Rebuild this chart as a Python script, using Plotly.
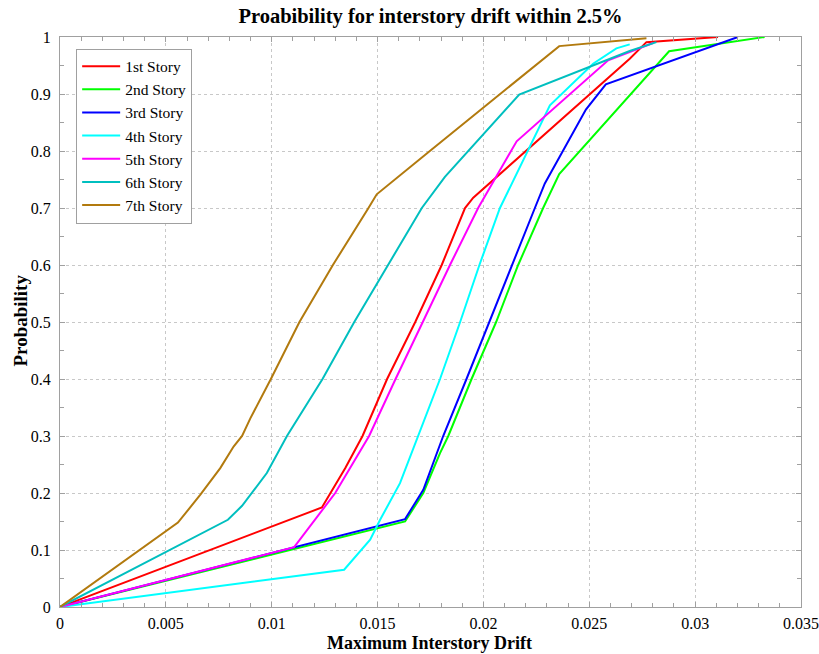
import plotly.graph_objects as go

names = ["1st Story", "2nd Story", "3rd Story", "4th Story", "5th Story", "6th Story", "7th Story"]
colors = ["#FF0000", "#00FF00", "#0000FF", "#00FFFF", "#FF00FF", "#00BFBF", "#B27A0E"]

x1 = [0, 0.01237, 0.01347, 0.01429, 0.01545, 0.01678, 0.01803, 0.01913, 0.01952, 0.02691, 0.0277, 0.03108]
y1 = [0, 0.1746, 0.2436, 0.30, 0.40, 0.50, 0.60, 0.70, 0.718, 0.962, 0.991, 1.0]

x2 = [0, 0.0163, 0.01716, 0.01795, 0.01834, 0.01944, 0.0206, 0.02164, 0.02282, 0.02358, 0.02877, 0.03328]
y2 = [0, 0.150, 0.200, 0.27, 0.30, 0.40, 0.50, 0.60, 0.70, 0.7594, 0.975, 1.0]

x3 = [0, 0.0163, 0.01716, 0.01795, 0.0181, 0.0192, 0.02027, 0.02133, 0.02243, 0.0229, 0.02484, 0.02578, 0.03202]
y3 = [0, 0.1542, 0.2056, 0.2844, 0.30, 0.40, 0.50, 0.60, 0.70, 0.743, 0.8727, 0.917, 1.0]

x4 = [0, 0.01342, 0.01465, 0.01512, 0.01606, 0.0169, 0.01795, 0.0189, 0.01981, 0.02078, 0.02314, 0.02518, 0.02628, 0.02691]
y4 = [0, 0.0654, 0.118, 0.153, 0.2173, 0.30, 0.40, 0.50, 0.60, 0.70, 0.880, 0.953, 0.98, 0.987]

x5 = [0, 0.01106, 0.013, 0.0146, 0.01585, 0.01712, 0.01842, 0.01975, 0.02157, 0.02589, 0.02801]
y5 = [0, 0.105, 0.200, 0.30, 0.40, 0.50, 0.60, 0.70, 0.817, 0.959, 0.9895]

x6 = [0, 0.00793, 0.0086, 0.00977, 0.01072, 0.0124, 0.0139, 0.01551, 0.01709, 0.01818, 0.02169, 0.02691, 0.02817]
y6 = [0, 0.153, 0.1775, 0.235, 0.30, 0.40, 0.50, 0.60, 0.70, 0.7547, 0.899, 0.9755, 0.991]

x7 = [0, 0.00557, 0.00663, 0.0071, 0.00757, 0.0082, 0.0086, 0.00899, 0.00996, 0.01131, 0.01289, 0.01457, 0.01496, 0.01747, 0.02358, 0.0277]
y7 = [0, 0.148, 0.197, 0.22, 0.2436, 0.2815, 0.30, 0.331, 0.40, 0.50, 0.60, 0.70, 0.724, 0.80, 0.984, 0.998]

xs = [x1, x2, x3, x4, x5, x6, x7]
ys = [y1, y2, y3, y4, y5, y6, y7]

xticks = [0, 0.005, 0.01, 0.015, 0.02, 0.025, 0.03, 0.035]
xticklabels = ["0", "0.005", "0.01", "0.015", "0.02", "0.025", "0.03", "0.035"]
yticks = [0, 0.1, 0.2, 0.3, 0.4, 0.5, 0.6, 0.7, 0.8, 0.9, 1]
yticklabels = ["0", "0.1", "0.2", "0.3", "0.4", "0.5", "0.6", "0.7", "0.8", "0.9", "1"]

serif = "Liberation Serif"

fig = go.Figure()
for n, c, x, y in zip(names, colors, xs, ys):
    fig.add_trace(go.Scatter(x=x, y=y, mode="lines", name=n,
                             line=dict(color=c, width=2)))

axis_common = dict(
    showline=True, linecolor="#A0A0A0", linewidth=1, mirror="allticks",
    ticks="inside", ticklen=5, tickcolor="#A0A0A0", tickwidth=1,
    showgrid=True, gridcolor="#C8C8C8", griddash="dot", gridwidth=1,
    zeroline=False, automargin=False,
    tickfont=dict(family=serif, size=16, color="black"),
)

fig.update_layout(
    width=819, height=654,
    margin=dict(l=59.5, r=17.5, t=36.7, b=46.7),
    paper_bgcolor="white", plot_bgcolor="white",
    title=dict(text="<b>Proabibility for interstory drift within 2.5%</b>",
               font=dict(family=serif, size=20.5, color="black"),
               x=0.5256, xanchor="center", y=0.976, yanchor="middle"),
    legend=dict(x=0.0218, y=0.9797, xanchor="left", yanchor="top",
                bgcolor="white", bordercolor="#A0A0A0", borderwidth=1,
                font=dict(family=serif, size=15.5, color="black"),
                itemwidth=38, tracegroupgap=0),
    showlegend=True,
)

fig.update_xaxes(range=[0, 0.035], tickvals=xticks, ticktext=xticklabels,
                 ticklabelstandoff=2,
                 minor=dict(dtick=0.001, ticks="inside", ticklen=4, tickcolor="#A0A0A0", showgrid=False),
                 **axis_common)
fig.update_yaxes(range=[0, 1], tickvals=yticks, ticktext=yticklabels,
                 ticklabelstandoff=5,
                 minor=dict(dtick=0.05, ticks="inside", ticklen=4, tickcolor="#A0A0A0", showgrid=False),
                 **axis_common)

fig.add_annotation(text="<b>Maximum Interstory Drift</b>", xref="paper", yref="paper",
                   x=0.4993, y=-0.0626, xanchor="center", yanchor="middle",
                   showarrow=False, font=dict(family=serif, size=18, color="black"))
fig.add_annotation(text="<b>Probability</b>", xref="paper", yref="paper",
                   x=-0.0532, y=0.5018, xanchor="center", yanchor="middle", textangle=-90,
                   showarrow=False, font=dict(family=serif, size=19, color="black"))

fig.write_html("out.html")
